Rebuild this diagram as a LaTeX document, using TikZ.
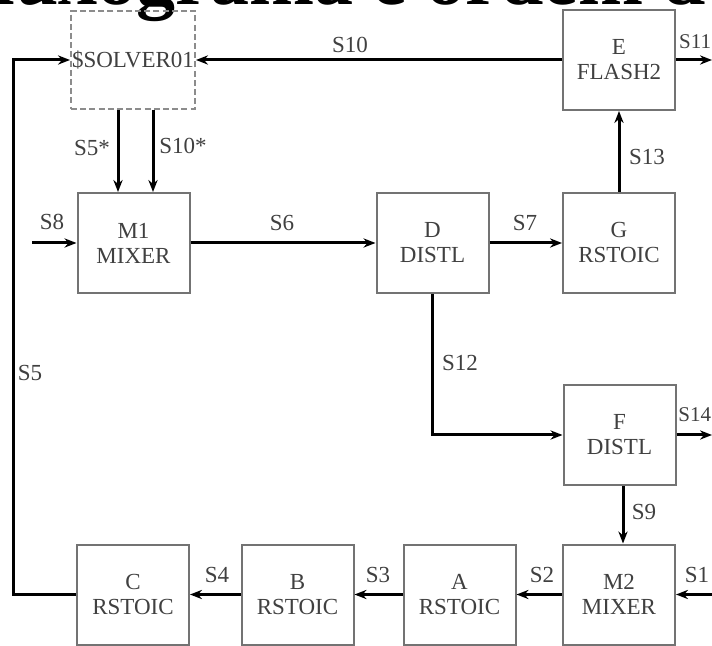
\documentclass[tikz,border=0pt]{standalone}
\usepackage{fontspec}
\setmainfont{Liberation Serif}
\usetikzlibrary{arrows.meta}
\begin{document}
\begin{tikzpicture}[x=0.5pt,y=-0.5pt,
  unit/.style={draw=black!55, line width=1pt, minimum width=56pt, minimum height=50pt,
    inner sep=0pt, align=center, font=\fontsize{11.5}{12.5}\selectfont, text=black!75},
  solver/.style={unit, draw=black!45, dash pattern=on 3pt off 1.6pt, minimum width=62pt, minimum height=49pt},
  stream/.style={line width=1.5pt, -{Stealth[length=6pt,width=4.6pt]}},
  lab/.style={font=\fontsize{11.5}{12.5}\selectfont, text=black!75, inner sep=0pt},
  edgelab/.style={lab, font=\fontsize{10.5}{12}\selectfont, anchor=east}]
\useasboundingbox (0,0) rectangle (712,646);
\clip (0,0) rectangle (712,646);
% cut-off heading fragment
\node[anchor=base west, inner sep=0pt, font=\fontsize{39}{39}\selectfont\bfseries] (title) at (-33,5) {fluxograma e ordem d};
% units
\node[solver] (sol) at (133,60) {\$SOLVER01};
\node[unit] (E) at (619,60) {E\\FLASH2};
\node[unit] (M1) at (133.5,243) {M1\\MIXER};
\node[unit] (D) at (432.5,243) {D\\DISTL};
\node[unit] (G) at (619,243) {G\\RSTOIC};
\node[unit] (F) at (619.5,435) {F\\DISTL};
\node[unit] (C) at (133,594.5) {C\\RSTOIC};
\node[unit] (B) at (297.5,594.5) {B\\RSTOIC};
\node[unit] (A) at (459.5,594.5) {A\\RSTOIC};
\node[unit] (M2) at (619,594.5) {M2\\MIXER};
% free ends
\coordinate (s11end) at (712,60);
\coordinate (s14end) at (712,435);
\coordinate (s1start) at (712,594.5);
\coordinate (s8start) at (32,243);
\coordinate (looptop) at (13,60);
\coordinate (x118) at (118,0);
\coordinate (x153) at (153,0);
\coordinate (x623) at (623,0);
% streams
\draw[stream] (E) -- (sol);
\draw[stream] (E) -- (s11end);
\draw[stream] (C.west) -| (looptop) -- (sol.west);
\draw[stream] (sol.south -| x118) -- (M1.north -| x118);
\draw[stream] (sol.south -| x153) -- (M1.north -| x153);
\draw[stream] (s8start) -- (M1.west);
\draw[stream] (M1) -- (D);
\draw[stream] (D) -- (G);
\draw[stream] (G) -- (E);
\draw[stream] (D.south) |- (F.west);
\draw[stream] (F) -- (s14end);
\draw[stream] (F.south -| x623) -- (M2.north -| x623);
\draw[stream] (s1start) -- (M2.east);
\draw[stream] (M2) -- (A);
\draw[stream] (A) -- (B);
\draw[stream] (B) -- (C);
% labels
\node[lab] (l10) at (350,45) {S10};
\node[edgelab] (l11) at (711.5,42) {S11};
\node[lab] (l5) at (30,373) {S5};
\node[lab] (l5s) at (92,148) {S5*};
\node[lab] (l10s) at (183,146) {S10*};
\node[lab] (l8) at (52,222) {S8};
\node[lab] (l6) at (282,223) {S6};
\node[lab] (l7) at (525,223) {S7};
\node[lab] (l13) at (647,157) {S13};
\node[lab] (l12) at (460,363) {S12};
\node[edgelab] (l14) at (711.5,415) {S14};
\node[lab] (l9) at (644,512) {S9};
\node[lab] (l1) at (697,575) {S1};
\node[lab] (l2) at (542,575) {S2};
\node[lab] (l3) at (378,575) {S3};
\node[lab] (l4) at (217,575) {S4};
\end{tikzpicture}
\end{document}
